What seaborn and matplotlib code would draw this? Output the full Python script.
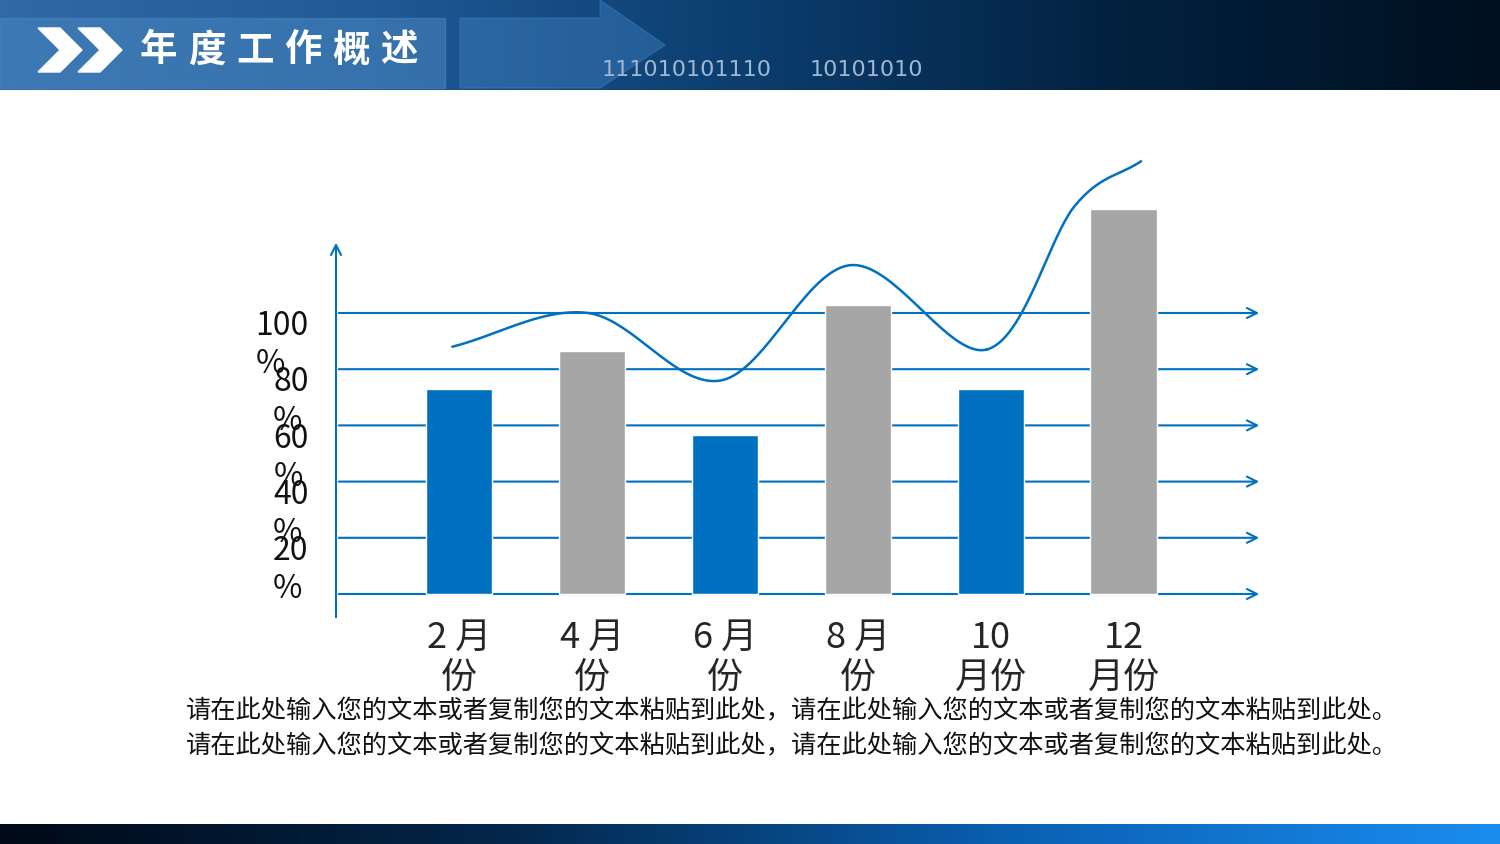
import numpy as np
import pandas as pd
import matplotlib
matplotlib.use("Agg")
import matplotlib.pyplot as plt
import seaborn as sns

sns.set_theme(style="white")
plt.rcParams['font.family'] = ['Noto Sans CJK SC', 'DejaVu Sans']

months = ["2 月\n份", "4 月\n份", "6 月\n份", "8 月\n份", "10\n月份", "12\n月份"]
bar_values = [73, 86.5, 56.6, 103, 73, 137]
bar_colors = ["#0070C0", "#A6A6A6", "#0070C0", "#A6A6A6", "#0070C0", "#A6A6A6"]
curve_x = [-0.05, 0.97, 1.97, 2.94, 3.97, 4.63, 5.13]
curve_y = [88, 100, 76, 117, 87, 138, 154]
grid_values = [0, 20, 40, 60, 80, 100]
ytick_labels = ["100\n%", "80\n%", "60\n%", "40\n%", "20\n%"]
ytick_values = [100, 80, 60, 40, 20]
title = "年度工作概述"
body = ("请在此处输入您的文本或者复制您的文本粘贴到此处，请在此处输入您的文本或者复制您的文本粘贴到此处。\n"
        "请在此处输入您的文本或者复制您的文本粘贴到此处，请在此处输入您的文本或者复制您的文本粘贴到此处。")

W, H = 1500, 844
fig = plt.figure(figsize=(15, 8.44), dpi=100)
fig.patch.set_facecolor("white")

bg = fig.add_axes([0, 0, 1, 1])
bg.set_xlim(0, W); bg.set_ylim(H, 0); bg.axis("off")
from matplotlib.colors import LinearSegmentedColormap
hdr = LinearSegmentedColormap.from_list("h", ["#2f6aa6", "#1f5a96", "#0b3d6e", "#03213f", "#00101f"])
grad = np.linspace(0, 1, 300).reshape(1, -1)
bg.imshow(grad, cmap=hdr, extent=[0, W, 90, 0], aspect="auto", zorder=0)
bg.add_patch(plt.Rectangle((0, 18), 445, 70, color="#4a86c0", alpha=0.55, zorder=1))
bg.add_patch(plt.Polygon([[460, 18], [600, 18], [600, 0], [665, 45], [600, 88], [460, 88]],
                         color="#3f7fbf", alpha=0.45, zorder=1))
bg.text(602, 70, "111010101110", color="#9fb8d2", fontsize=16, va="center", zorder=2, family="DejaVu Sans")
bg.text(810, 70, "10101010", color="#9fb8d2", fontsize=16, va="center", zorder=2, family="DejaVu Sans")
for x0 in (38, 78):
    bg.add_patch(plt.Polygon([[x0, 28], [x0 + 22, 28], [x0 + 44, 50], [x0 + 22, 72], [x0, 72], [x0 + 22, 50]],
                             color="white", zorder=3))
for i, ch in enumerate(title):
    bg.text(140 + i * 48, 50, ch, color="white", fontsize=27, fontweight="bold",
            va="center", ha="left", zorder=3)
ftr = LinearSegmentedColormap.from_list("f", ["#000a18", "#03264a", "#0a5fb0", "#1a8cf0"])
bg.imshow(grad, cmap=ftr, extent=[0, W, H, 824], aspect="auto", zorder=0)
bg.text(186, 729, body, fontsize=18.2, color="#111111", va="center", ha="left", linespacing=1.45, zorder=3)

ax = fig.add_axes([336 / W, (H - 620) / H, 926 / W, 470 / H])
ax.patch.set_alpha(0)
df = pd.DataFrame({"m": months, "v": bar_values})
sns.barplot(data=df, x="m", y="v", hue="m", palette=bar_colors, legend=False,
            width=0.5, ax=ax, saturation=1, zorder=2)
ax.set_xlim(-0.925, 6.04)
ax.set_ylim(-9.25, 158)
for s in ax.spines.values():
    s.set_visible(False)
ax.set_xlabel(""); ax.set_ylabel("")
ax.set_yticks([])
ax.set_xticks(range(len(months)))
ax.set_xticklabels(months, fontsize=26, linespacing=1.15)
ax.tick_params(axis="x", length=0, pad=0)

blue = "#0070C0"
for g in grid_values:
    ax.annotate("", xy=(6.04, g), xytext=(-0.925, g),
                arrowprops=dict(arrowstyle="->", color=blue, lw=1.5, mutation_scale=18), zorder=1)
ax.annotate("", xy=(-0.925, 126), xytext=(-0.925, -9.25),
            arrowprops=dict(arrowstyle="->", color=blue, lw=1.5, mutation_scale=18), zorder=3)
for v, lab in zip(ytick_values, ytick_labels):
    ax.text(-1.13, v + 1, lab, fontsize=23, ha="right", va="top", multialignment="left",
            linespacing=1.25, color="#111111")

px = np.array(curve_x); py = np.array(curve_y)
P = np.column_stack([px, py])
P = np.vstack([P[0] - (P[1] - P[0]), P, P[-1] + (P[-1] - P[-2])])
pts = []
t = np.linspace(0, 1, 40)[:, None]
for i in range(1, len(P) - 2):
    p0, p1, p2, p3 = P[i - 1], P[i], P[i + 1], P[i + 2]
    seg = 0.5 * ((2 * p1) + (-p0 + p2) * t + (2 * p0 - 5 * p1 + 4 * p2 - p3) * t ** 2
                 + (-p0 + 3 * p1 - 3 * p2 + p3) * t ** 3)
    pts.append(seg)
pts = np.vstack(pts)
ax.plot(pts[:, 0], pts[:, 1], color=blue, lw=1.8, zorder=4)

fig.savefig("out.png", dpi=100)
